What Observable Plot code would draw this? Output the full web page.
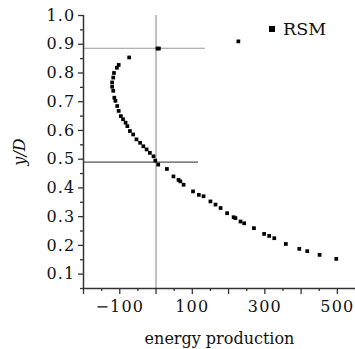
<!DOCTYPE html>
<html>
<head>
<meta charset="utf-8">
<script src="https://cdn.jsdelivr.net/npm/d3@7"></script>
<script src="https://cdn.jsdelivr.net/npm/@observablehq/plot@0.6"></script>
<style>
  html, body { margin: 0; padding: 0; background: #fff; }
  #wrap { position: relative; width: 355px; height: 349px; }
  #legend { position: absolute; left: 269px; top: 19px; font: 17.5px "DejaVu Serif", serif; color: #111; display: flex; align-items: center; gap: 8px; }
  #legend .sw { width: 6px; height: 6px; background: #000; }
  g[aria-label="x-axis tick label"] text, g[aria-label="y-axis tick label"] text { letter-spacing: 1.2px; }
</style>
</head>
<body>
<div id="wrap"><div id="legend"><span class="sw"></span><span>RSM</span></div></div>
<script>
const energy = [4, 8, -74, -103, -108, -116, -118, -121, -121, -118, -115, -112, -107, -103, -97, -91, -84, -79, -72, -63, -54, -44, -35, -26, -17, -7, -2, 6, 30, 48, 62, 67, 76, 102, 118, 131, 150, 164, 178, 196, 214, 219, 233, 243, 270, 298, 312, 326, 358, 395, 417, 451, 497, 227];
const yD = [0.885, 0.885, 0.854, 0.828, 0.818, 0.80, 0.784, 0.767, 0.752, 0.738, 0.714, 0.703, 0.685, 0.668, 0.65, 0.639, 0.627, 0.615, 0.598, 0.586, 0.569, 0.557, 0.545, 0.534, 0.522, 0.51, 0.495, 0.481, 0.466, 0.44, 0.428, 0.423, 0.411, 0.388, 0.376, 0.371, 0.353, 0.342, 0.33, 0.312, 0.298, 0.295, 0.283, 0.277, 0.26, 0.24, 0.233, 0.225, 0.205, 0.188, 0.18, 0.167, 0.153, 0.91];
const xMajor = [-200, -100, 0, 100, 200, 300, 400, 500];
const xMinor = [-150, -50, 50, 150, 250, 350, 450, 550];
const xLabels = [-100, 100, 300, 500];
const yMajor = [0.1, 0.2, 0.3, 0.4, 0.5, 0.6, 0.7, 0.8, 0.9, 1.0];
const yMinor = [0.05, 0.15, 0.25, 0.35, 0.45, 0.55, 0.65, 0.75, 0.85, 0.95];
const refX = [0];
const refY = [{y: 0.886, x2: 136, c: "#999"}, {y: 0.49, x2: 117, c: "#555"}];

const data = energy.map((e, i) => ({x: e, y: yD[i]}));
const fmtX = d => xLabels.includes(d) ? (d < 0 ? "\u2212" + Math.abs(d) : String(d)) : "";

const chart = Plot.plot({
  width: 355, height: 349,
  marginLeft: 83, marginRight: 0, marginTop: 15, marginBottom: 61,
  style: {fontFamily: "'DejaVu Serif', serif", fontSize: "16px", color: "#111", background: "#fff"},
  x: {domain: [-200, 550]},
  y: {domain: [0.05, 1.0]},
  marks: [
    Plot.ruleX(refX, {stroke: "#999", strokeWidth: 1.2}),
    Plot.ruleY(refY, {y: "y", x1: -200, x2: "x2", stroke: "c", strokeWidth: 1.2}),
    Plot.axisX({ticks: xMajor, tickSize: 6, tickPadding: 6, tickFormat: fmtX, stroke: "#333", strokeWidth: 1.3, label: null}),
    Plot.axisX({ticks: xMinor, tickSize: 3, tickFormat: () => "", stroke: "#333", strokeWidth: 1.3, label: null}),
    Plot.axisX({ticks: [], tickSize: 0, label: "energy production", labelAnchor: "center", labelArrow: "none", labelOffset: 55}),
    Plot.axisY({ticks: yMajor, tickSize: 5, tickPadding: 3, tickFormat: d3.format(".1f"), stroke: "#333", strokeWidth: 1.3, label: null}),
    Plot.axisY({ticks: yMinor, tickSize: 3, tickFormat: () => "", stroke: "#333", strokeWidth: 1.3, label: null}),
    Plot.axisY({ticks: [], tickSize: 0, label: "y/D", labelAnchor: "center", labelArrow: "none", labelOffset: 70, fontStyle: "italic"}),
    Plot.ruleX([-200], {stroke: "#333", strokeWidth: 1.5}),
    Plot.ruleY([0.05], {stroke: "#333", strokeWidth: 1.5}),
    Plot.dot(data, {x: "x", y: "y", symbol: "square", r: 2.1, fill: "#000"})
  ]
});
document.getElementById("wrap").prepend(chart);
</script>
</body>
</html>
